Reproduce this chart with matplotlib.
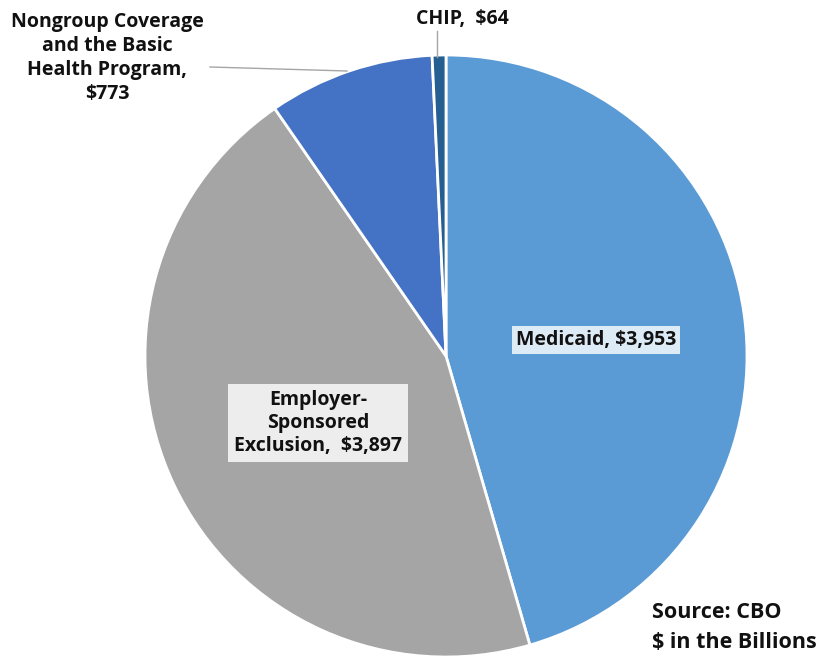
import matplotlib.pyplot as plt

# Data ($ in billions)
labels = ['Medicaid', 'Employer-Sponsored Exclusion',
          'Nongroup Coverage and the Basic Health Program', 'CHIP']
values = [3953, 3897, 773, 64]
colors = ['#5B9BD5', '#A5A5A5', '#4472C4', '#255E91']

plt.rcParams['font.family'] = ['Open Sans', 'DejaVu Sans']

fig = plt.figure(figsize=(8.23, 6.65), dpi=100)
ax = fig.add_axes([0, 0, 1, 1])

ax.pie(values, colors=colors, startangle=90, counterclock=False,
       center=(446, 309), radius=301, frame=True,
       wedgeprops=dict(edgecolor='white', linewidth=2))
ax.set_xlim(0, 823)
ax.set_ylim(0, 665)
ax.set_aspect('equal')
ax.axis('off')

fs = 14
tc = '#111111'
ax.text(596, 325, f'{labels[0]}, ${values[0]:,}', ha='center', va='center',
        fontsize=fs, fontweight='bold', color=tc,
        bbox=dict(boxstyle='square,pad=0.22', fc='#DDEBF7', ec='none'))
ax.text(318, 242, f'Employer-\nSponsored\nExclusion,  ${values[1]:,}',
        ha='center', va='center', fontsize=fs, fontweight='bold',
        color=tc, linespacing=1.22,
        bbox=dict(boxstyle='square,pad=0.3', fc='#EDEDED', ec='none'))
ax.text(107, 607, f'Nongroup Coverage\nand the Basic\nHealth Program,\n${values[2]}',
        ha='center', va='center', fontsize=fs, fontweight='bold',
        color=tc, linespacing=1.28)
ax.plot([210, 347], [598, 594], color='#A6A6A6', lw=1)
ax.text(462, 646, f'{labels[3]},  ${values[3]}', ha='center', va='center',
        fontsize=fs, fontweight='bold', color=tc)
ax.plot([437, 437], [634, 608], color='#A6A6A6', lw=1)

ax.text(652, 53, 'Source: CBO', ha='left', va='center', fontsize=15.5,
        fontweight='bold', color=tc)
ax.text(652, 23, '$ in the Billions', ha='left', va='center', fontsize=15.5,
        fontweight='bold', color=tc)

fig.savefig('out.png', dpi=100)
